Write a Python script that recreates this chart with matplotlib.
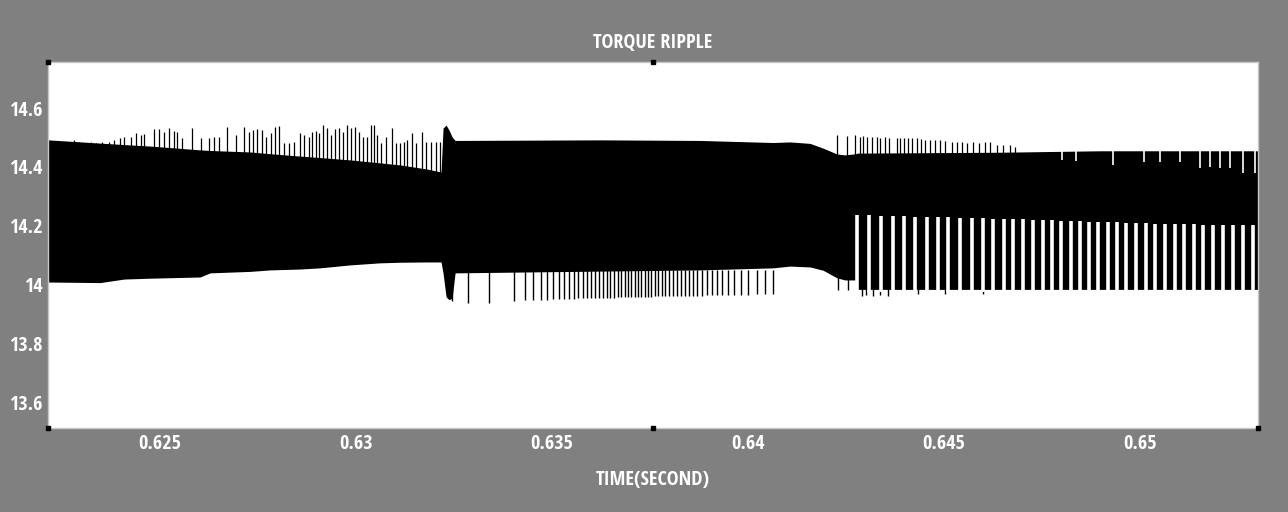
import numpy as np
import matplotlib
matplotlib.use("Agg")
import matplotlib.pyplot as plt
from matplotlib import font_manager

# ---------------- data ----------------
title = "TORQUE RIPPLE"
xlabel = "TIME(SECOND)"
x_limits = (0.62214, 0.65301)
y_limits = (13.515, 14.756)
x_ticks = [0.625, 0.63, 0.635, 0.64, 0.645, 0.65]
x_tick_labels = ["0.625", "0.63", "0.635", "0.64", "0.645", "0.65"]
y_ticks = [13.6, 13.8, 14.0, 14.2, 14.4, 14.6]
y_tick_labels = ["13.6", "13.8", "14", "14.2", "14.4", "14.6"]

# main ripple band: upper / lower envelope of the dense oscillation
env_t = [0.622143, 0.623469, 0.624082, 0.624745, 0.626020, 0.626276, 0.627296,
         0.627806, 0.628571, 0.629082, 0.629847, 0.630612, 0.631122, 0.631811,
         0.632168, 0.632219, 0.632296, 0.632372, 0.632449, 0.632526, 0.636224,
         0.638776, 0.640638, 0.641071, 0.641582, 0.641913, 0.642270, 0.642474,
         0.642755, 0.642781, 0.646429, 0.648980, 0.653010]
env_hi = [14.492, 14.481, 14.476, 14.471, 14.458, 14.456, 14.451,
          14.445, 14.437, 14.432, 14.424, 14.414, 14.407, 14.393,
          14.383, 14.532, 14.542, 14.525, 14.502, 14.490, 14.492,
          14.490, 14.483, 14.485, 14.480, 14.464, 14.444, 14.441,
          14.445, 14.447, 14.450, 14.455, 14.455]
env_lo = [14.010, 14.008, 14.020, 14.023, 14.027, 14.041, 14.046,
          14.051, 14.054, 14.058, 14.068, 14.075, 14.077, 14.078,
          14.078, 14.040, 13.960, 13.950, 13.955, 14.041, 14.047,
          14.051, 14.058, 14.064, 14.061, 14.050, 14.024, 14.017,
          14.017, 13.985, 13.985, 13.985, 13.985]

# upward peaks before the load step (t, peak value)
up_spike_t = [0.622296, 0.622551, 0.622806, 0.622934, 0.623061, 0.623232, 0.623360,
              0.623528, 0.623699, 0.623827, 0.623980, 0.624082, 0.624252, 0.624380,
              0.624508, 0.624592, 0.624847, 0.624974, 0.625102, 0.625230, 0.625357,
              0.625442, 0.625569, 0.625824, 0.626038, 0.626250, 0.626378, 0.626505,
              0.626717, 0.626931, 0.627143, 0.627270, 0.627381, 0.627483, 0.627610,
              0.627696, 0.627823, 0.627925, 0.628036, 0.628163, 0.628291, 0.628418,
              0.628571, 0.628673, 0.628801, 0.628886, 0.628971, 0.629056, 0.629158,
              0.629268, 0.629371, 0.629464, 0.629566, 0.629677, 0.629779, 0.629881,
              0.629974, 0.630077, 0.630187, 0.630272, 0.630374, 0.630459, 0.630544,
              0.630646, 0.630758, 0.630911, 0.631013, 0.631122, 0.631224, 0.631309,
              0.631420, 0.631522, 0.631675, 0.631778, 0.631905, 0.632033, 0.632143]
up_spike_v = [14.486, 14.480, 14.492, 14.486, 14.480, 14.486, 14.480,
              14.486, 14.486, 14.492, 14.497, 14.503, 14.503, 14.514,
              14.508, 14.512, 14.528, 14.528, 14.520, 14.531, 14.523,
              14.520, 14.497, 14.531, 14.497, 14.497, 14.503, 14.503,
              14.537, 14.508, 14.537, 14.520, 14.525, 14.528, 14.525,
              14.503, 14.514, 14.537, 14.539, 14.480, 14.483, 14.486,
              14.514, 14.508, 14.503, 14.520, 14.523, 14.514, 14.542,
              14.531, 14.508, 14.528, 14.531, 14.520, 14.542, 14.531,
              14.537, 14.520, 14.503, 14.503, 14.542, 14.542, 14.508,
              14.480, 14.503, 14.531, 14.480, 14.480, 14.486, 14.492,
              14.514, 14.480, 14.520, 14.486, 14.486, 14.486, 14.486]

# upward peaks after the second step
up2_spike_t = [0.64228, 0.64252, 0.64273, 0.64286, 0.64294, 0.64304, 0.64315,
               0.64328, 0.64337, 0.64349, 0.64360, 0.64379, 0.64388, 0.64398,
               0.64409, 0.64417, 0.64432, 0.64440, 0.64451, 0.64464, 0.64477,
               0.64490, 0.64503, 0.64520, 0.64532, 0.64545, 0.64559, 0.64575,
               0.64588, 0.64605, 0.64617, 0.64634, 0.64651, 0.64668, 0.64681]
up2_spike_v = [14.508, 14.506, 14.508, 14.503, 14.506, 14.503, 14.503,
               14.503, 14.497, 14.503, 14.497, 14.499, 14.497, 14.497,
               14.497, 14.497, 14.497, 14.495, 14.492, 14.492, 14.492,
               14.492, 14.488, 14.486, 14.486, 14.484, 14.481, 14.486,
               14.481, 14.486, 14.486, 14.475, 14.475, 14.475, 14.469]

# downward dips during the middle interval (t, minimum value)
dn_spike_t = [0.632441, 0.632849, 0.633393, 0.634039, 0.634311, 0.634524, 0.634711,
              0.634881, 0.635034, 0.635170, 0.635306, 0.635434, 0.635553, 0.635672,
              0.635783, 0.635893, 0.635995, 0.636097, 0.636199, 0.636301, 0.636395,
              0.636488, 0.636582, 0.636675, 0.636769, 0.636854, 0.636939, 0.637024,
              0.637109, 0.637194, 0.637279, 0.637364, 0.637449, 0.637534, 0.637619,
              0.637704, 0.637798, 0.637891, 0.637985, 0.638078, 0.638180, 0.638282,
              0.638384, 0.638486, 0.638597, 0.638707, 0.638827, 0.638946, 0.639073,
              0.639201, 0.639337, 0.639490, 0.639643, 0.639813, 0.640009, 0.640221,
              0.640434, 0.640646,
              0.642296, 0.642551, 0.642908, 0.643010, 0.643189, 0.643367, 0.643571,
              0.644337, 0.645026, 0.645995]
dn_spike_v = [13.945, 13.940, 13.940, 13.945, 13.948, 13.948, 13.950,
              13.950, 13.952, 13.952, 13.952, 13.954, 13.954, 13.955,
              13.955, 13.955, 13.956, 13.956, 13.956, 13.956, 13.957,
              13.957, 13.957, 13.958, 13.958, 13.958, 13.958, 13.959,
              13.959, 13.959, 13.960, 13.960, 13.960, 13.960, 13.961,
              13.961, 13.961, 13.962, 13.962, 13.962, 13.962, 13.963,
              13.963, 13.963, 13.964, 13.964, 13.964, 13.965, 13.965,
              13.965, 13.966, 13.966, 13.966, 13.967, 13.967, 13.968,
              13.968, 13.968,
              13.983, 13.983, 13.962, 13.965, 13.962, 13.965, 13.962,
              13.968, 13.968, 13.970]

# missed lower swings after the second step (white gaps): time, gap top
gap_t = [0.642781, 0.643087, 0.643393, 0.643699, 0.643980, 0.644260, 0.644554,
         0.644834, 0.645102, 0.645408, 0.645702, 0.645982, 0.646250, 0.646518,
         0.646760, 0.647015, 0.647258, 0.647513, 0.647755, 0.647985, 0.648227,
         0.648469, 0.648699, 0.648929, 0.649171, 0.649413, 0.649643, 0.649898,
         0.650153, 0.650383, 0.650638, 0.650880, 0.651122, 0.651378, 0.651607,
         0.651862, 0.652117, 0.652372, 0.652628, 0.652883]
gap_top = [14.237, 14.236, 14.235, 14.234, 14.233, 14.232, 14.231,
           14.230, 14.229, 14.228, 14.227, 14.226, 14.225, 14.224,
           14.223, 14.222, 14.221, 14.220, 14.219, 14.218, 14.217,
           14.216, 14.215, 14.214, 14.213, 14.212, 14.211, 14.210,
           14.209, 14.208, 14.207, 14.207, 14.206, 14.206, 14.205,
           14.205, 14.204, 14.204, 14.203, 14.203]

# missed upper swings near the end (white notches): time, notch bottom
notch_t = [0.64802, 0.64836, 0.64932, 0.65009, 0.65051, 0.65102, 0.65153,
           0.65179, 0.65204, 0.65230, 0.65264, 0.65294]
notch_v = [14.424, 14.420, 14.407, 14.418, 14.418, 14.418, 14.395,
           14.401, 14.395, 14.395, 14.378, 14.378]

# black corner/midpoint markers drawn by the original plotting tool
marker_t = [0.62214, 0.637575, 0.62214, 0.637575, 0.65301]
marker_v = [14.756, 14.756, 13.515, 13.515, 13.515]

# ---------------- font: pick a condensed bold face if one is installed ----------------
def pick_font(size):
    best = None
    for f in font_manager.fontManager.ttflist:
        name = f.name.lower()
        fn = f.fname.lower()
        narrow = ("narrow" in name or "condensed" in name or "narrow" in fn
                  or "condensed" in fn or str(f.stretch) in ("condensed", "semi-condensed",
                                                             "extra-condensed"))
        bold = ("bold" in fn) or (str(f.weight) in ("bold", "700", "heavy", "black"))
        if narrow and bold and "oblique" not in fn and "italic" not in fn:
            score = 0
            if "liberation" in fn:
                score = 3
            elif "roboto" in fn or "opensans" in fn or "open" in fn:
                score = 2
            elif "dejavu" in fn:
                score = 1
            if best is None or score > best[0]:
                best = (score, f.fname)
    if best is not None:
        return font_manager.FontProperties(fname=best[1], size=size)
    return font_manager.FontProperties(family="DejaVu Sans", weight="bold",
                                       stretch="condensed", size=size)

BG = "#808080"
fp_tick = pick_font(14.5)
fp_text = pick_font(14.5)

# ---------------- drawing ----------------
fig = plt.figure(figsize=(12.88, 5.12), dpi=100, facecolor=BG)
ax = fig.add_axes([48 / 1288, 84 / 512, 1210 / 1288, 366 / 512])
ax.set_facecolor("white")

ax.fill_between(env_t, env_lo, env_hi, color="black", lw=0, zorder=2)
ax.vlines(up_spike_t, [14.30] * len(up_spike_t), up_spike_v, color="black", lw=0.9, zorder=3)
ax.vlines(up2_spike_t, [14.30] * len(up2_spike_t), up2_spike_v, color="black", lw=0.9, zorder=3)
ax.vlines(gap_t, [13.975] * len(gap_t), gap_top, color="white", lw=2.6, zorder=4)
ax.vlines(notch_t, [14.47] * len(notch_t), notch_v, color="white", lw=1.2, zorder=4)
ax.vlines(dn_spike_t, [14.05] * len(dn_spike_t), dn_spike_v, color="black", lw=1.0, zorder=3)

ax.plot(marker_t, marker_v, ls="none", marker="s", ms=3.2, color="black",
        clip_on=False, zorder=6)

ax.set_xlim(*x_limits)
ax.set_ylim(*y_limits)
ax.set_xticks(x_ticks)
ax.set_xticklabels(x_tick_labels)
ax.set_yticks(y_ticks)
ax.set_yticklabels(y_tick_labels)
ax.tick_params(length=0, colors="white", pad=4)
for lab in ax.get_xticklabels() + ax.get_yticklabels():
    lab.set_fontproperties(fp_tick)
    lab.set_color("white")
for s in ax.spines.values():
    s.set_color("#c8c8c8")
    s.set_linewidth(1.0)

ax.set_title(title, fontproperties=fp_text, color="white", pad=10)
ax.set_xlabel(xlabel, fontproperties=fp_text, color="white", labelpad=12)

fig.savefig("out.png", dpi=100, facecolor=BG)
